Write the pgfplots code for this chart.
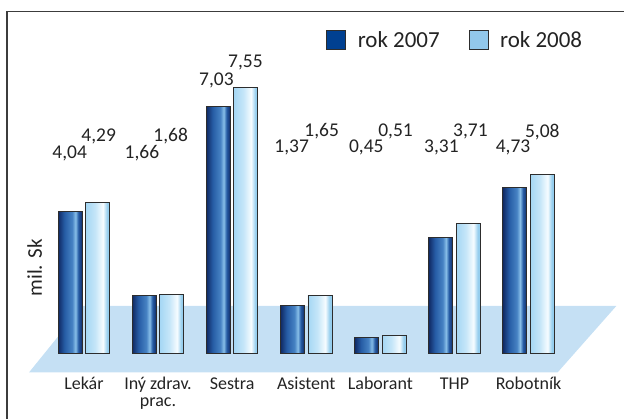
\documentclass[border=0pt]{standalone}
\usepackage{pgfplots}
\pgfplotsset{compat=1.18}
\usepackage{fontspec}
\setmainfont{Carlito}
\definecolor{dA}{RGB}{16,42,100}
\definecolor{mA}{RGB}{38,92,165}
\definecolor{mB}{RGB}{70,130,195}
\definecolor{lA}{RGB}{135,190,232}
\definecolor{bL}{RGB}{165,215,244}
\definecolor{bW}{RGB}{246,252,255}
\definecolor{bR}{RGB}{150,206,238}
\definecolor{floorc}{RGB}{197,224,244}
\definecolor{leg07}{RGB}{0,64,145}
\definecolor{leg08}{RGB}{146,200,235}
\definecolor{bord}{RGB}{45,45,45}
\definecolor{txt}{RGB}{35,35,35}
\definecolor{framec}{RGB}{60,60,60}
\pgfdeclarehorizontalshading{shA}{100bp}{color(0bp)=(dA); color(25bp)=(dA); color(38bp)=(mA); color(54bp)=(mB); color(61bp)=(lA); color(67bp)=(mA); color(75bp)=(dA); color(100bp)=(dA)}
\pgfdeclarehorizontalshading{shB}{100bp}{color(0bp)=(bL); color(25bp)=(bL); color(45bp)=(bL!60!bW); color(61bp)=(bW); color(70bp)=(bR); color(75bp)=(bR); color(100bp)=(bR)}
\pgfplotsset{
  barA/.style={ybar, bar width=24pt, bar shift=-13.75pt, draw=bord, line width=0.9pt, shade, shading=shA, forget plot},
  barB/.style={ybar, bar width=24pt, bar shift=13.75pt, draw=bord, line width=0.9pt, shade, shading=shB, forget plot},
}
\begin{document}
\begin{tikzpicture}
\begin{axis}[
  width=625pt, height=419pt, scale only axis,
  xmin=-1.1325, xmax=7.294, ymin=-1.855, ymax=10.048,
  axis line style={draw=none}, major tick length=0pt,
  ytick=\empty, xtick={0,...,6},
  xticklabels={Lekár, {\begin{tabular}[t]{@{}c@{}}Iný zdrav.\\prac.\end{tabular}}, Sestra, Asistent, Laborant, THP, Robotník},
  x tick label style={anchor=base, yshift=29.7pt, font=\fontsize{18}{17.5}\selectfont, text=txt},
  clip=false,
  legend style={draw=none, fill=none, at={(rel axis cs:0.5227,0.9045)}, anchor=west,
    inner sep=0pt, outer sep=0pt, font=\fontsize{23}{27}\selectfont, text=txt,
    /tikz/every odd column/.append style={column sep=11.5pt},
    /tikz/every even column/.append style={column sep=29pt},
    nodes={inner sep=0pt}},
  legend columns=2,
  legend image code/.code={\draw[#1, line width=0.9pt] (0pt,-9.5pt) rectangle (19pt,9.5pt);},
]
\path (rel axis cs:0,0) rectangle (rel axis cs:1,1);
\draw[framec, line width=1.1pt] (rel axis cs:0.0112,0) -- (rel axis cs:0.0112,0.97375) -- (rel axis cs:1,0.97375);
\fill[floorc] (axis cs:-0.7415,-0.54) -- (axis cs:6.391,-0.54) -- (axis cs:7.186,1.355) -- (axis cs:-0.0135,1.355) -- cycle;

\addlegendimage{fill=leg07, draw=bord}
\addlegendentry{rok 2007}
\addlegendimage{fill=leg08, draw=bord}
\addlegendentry{rok 2008}

% rok 2007
\addplot[barA] coordinates {(0,4.04)};
\addplot[barA] coordinates {(1,1.66)};
\addplot[barA] coordinates {(2,7.03)};
\addplot[barA] coordinates {(3,1.37)};
\addplot[barA] coordinates {(4,0.45)};
\addplot[barA] coordinates {(5,3.31)};
\addplot[barA] coordinates {(6,4.73)};
% rok 2008
\addplot[barB] coordinates {(0,4.29)};
\addplot[barB] coordinates {(1,1.68)};
\addplot[barB] coordinates {(2,7.55)};
\addplot[barB] coordinates {(3,1.65)};
\addplot[barB] coordinates {(4,0.51)};
\addplot[barB] coordinates {(5,3.71)};
\addplot[barB] coordinates {(6,5.08)};

\addplot[only marks, mark=*, mark size=0pt, mark options={draw=none, fill=none}, forget plot,
  nodes near coords, point meta=explicit symbolic,
  every node near coord/.style={anchor=center, inner sep=0pt, font=\fontsize{19.5}{23}\selectfont, text=txt}]
  coordinates {(-0.193,5.702) [{4,04}] (0.782,5.702) [{1,66}] (1.788,7.776) [{7,03}] (2.803,5.852) [{1,37}]
               (3.810,5.852) [{0,45}] (4.825,5.852) [{3,31}] (5.791,5.852) [{4,73}]};
\addplot[only marks, mark=*, mark size=0pt, mark options={draw=none, fill=none}, forget plot,
  nodes near coords, point meta=explicit symbolic,
  every node near coord/.style={anchor=center, inner sep=0pt, font=\fontsize{19.5}{23}\selectfont, text=txt}]
  coordinates {(0.199,6.185) [{4,29}] (1.170,6.185) [{1,68}] (2.179,8.278) [{7,55}] (3.208,6.307) [{1,65}]
               (4.205,6.307) [{0,51}] (5.216,6.307) [{3,71}] (6.186,6.307) [{5,08}]};

\node[rotate=90, anchor=base, font=\fontsize{21}{25}\selectfont, text=txt] at (axis cs:-0.5663,2.435) {mil. Sk};
\end{axis}
\end{tikzpicture}
\end{document}
